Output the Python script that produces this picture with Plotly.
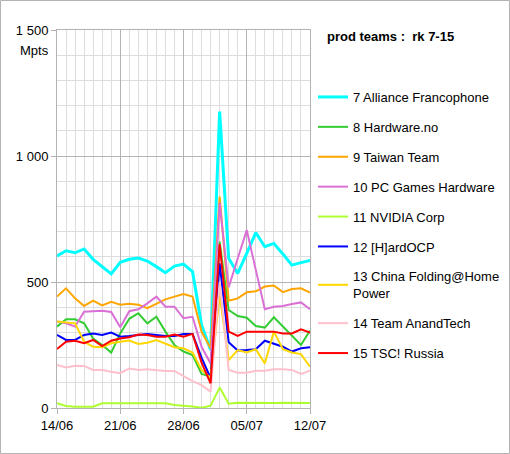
import pandas as pd
import plotly.graph_objects as go

dates = pd.date_range("2021-06-14", "2021-07-12", freq="D")

names = ["7 Alliance Francophone", "8 Hardware.no", "9 Taiwan Team", "10 PC Games Hardware",
         "11 NVIDIA Corp", "12 [H]ardOCP", "13 China Folding@Home<br>Power", "14 Team AnandTech",
         "15 TSC! Russia"]

alliance = [603, 624, 616, 631, 590, 561, 532, 578, 590, 595, 583, 561, 537, 563, 571, 541,
            329, 230, 1176, 594, 534, 614, 696, 640, 653, 611, 567, 577, 585]
hardware_no = [323, 352, 352, 336, 276, 250, 220, 296, 354, 376, 336, 362, 303, 250, 224, 210,
               135, 125, 660, 389, 365, 358, 325, 319, 360, 323, 283, 250, 307]
taiwan = [442, 475, 435, 405, 426, 407, 421, 410, 414, 410, 396, 413, 431, 442, 452, 442,
          303, 237, 839, 426, 435, 459, 463, 482, 486, 460, 472, 475, 458]
pcgh = [343, 336, 323, 382, 384, 386, 381, 320, 384, 392, 415, 442, 402, 402, 356, 362,
        243, 177, 815, 479, 593, 706, 548, 392, 402, 405, 413, 419, 392]
nvidia = [19, 8, 5, 5, 5, 19, 19, 19, 19, 19, 19, 19, 19, 12, 10, 6,
          1, 9, 81, 17, 21, 20, 22, 20, 20, 21, 20, 20, 20]
hardocp = [290, 270, 270, 290, 296, 290, 299, 283, 286, 290, 294, 290, 286, 286, 294, 294,
           200, 118, 574, 261, 228, 230, 233, 267, 254, 243, 224, 237, 241]
china = [343, 339, 336, 263, 243, 241, 257, 263, 268, 254, 259, 270, 257, 241, 237, 220,
         151, 120, 448, 190, 230, 220, 233, 177, 303, 233, 220, 214, 164]
anandtech = [171, 161, 168, 167, 151, 151, 144, 138, 157, 151, 154, 151, 147, 147, 127, 107,
             91, 65, 500, 151, 140, 140, 148, 148, 154, 154, 151, 135, 148]
tsc = [234, 263, 267, 257, 270, 246, 267, 276, 281, 292, 290, 283, 283, 292, 283, 294,
       180, 98, 650, 303, 286, 303, 303, 303, 303, 296, 296, 312, 299]

series = [alliance, hardware_no, taiwan, pcgh, nvidia, hardocp, china, anandtech, tsc]
colors = ["#00ffff", "#33cc33", "#ffa500", "#da70d6", "#adff2f", "#0000ff", "#ffd700", "#ffc0cb", "#ff0000"]
widths = [3, 2, 2, 2, 2, 2, 2, 2, 2]

y_tickvals = [0, 500, 1000, 1500]
y_ticktext = ["0", "500", "1 000", "1 500"]

FONT = "Liberation Sans, Arial, sans-serif"
L, R, T, B = 57, 200, 30, 46
W, H = 510, 454
pw, ph = W - L - R, H - T - B

def px(x):
    return (x - L) / pw

def py(y):
    return (H - B - y) / ph

fig = go.Figure()
for i, (n, s, c, w) in enumerate(zip(names, series, colors, widths)):
    fig.add_trace(go.Scatter(x=dates, y=s, name=n, mode="lines",
                             line=dict(color=c, width=w), legendgroup=str(i)))

fig.update_layout(
    width=W, height=H,
    margin=dict(l=L, r=R, t=T, b=B, autoexpand=False),
    paper_bgcolor="white", plot_bgcolor="white",
    font=dict(family=FONT, size=13, color="black"),
    showlegend=True,
    legend=dict(x=px(313), y=py(82), xanchor="left", yanchor="top",
                font=dict(family=FONT, size=13, color="black"),
                tracegroupgap=10, bgcolor="rgba(0,0,0,0)"),
    xaxis=dict(range=[dates[0], dates[-1]], type="date", tickformat="%d/%m",
               tick0=dates[0], dtick=7 * 86400000,
               showgrid=True, gridcolor="#b3b3b3", gridwidth=1,
               minor=dict(dtick=86400000, showgrid=True, gridcolor="#dddddd", ticks=""),
               ticks="outside", ticklen=5, tickcolor="#b3b3b3",
               showline=True, linecolor="#b3b3b3", mirror=True, zeroline=False,
               tickfont=dict(size=13)),
    yaxis=dict(range=[0, 1500], tickvals=y_tickvals, ticktext=y_ticktext,
               showgrid=True, gridcolor="#b3b3b3", gridwidth=1,
               minor=dict(dtick=100, showgrid=True, gridcolor="#dddddd", ticks=""),
               ticks="outside", ticklen=5, tickcolor="#b3b3b3",
               showline=True, linecolor="#b3b3b3", mirror=True, zeroline=False,
               tickfont=dict(size=13)),
)

fig.add_annotation(text="Mpts", x=px(34), y=py(50), xref="paper", yref="paper",
                   showarrow=False, xanchor="center", yanchor="middle",
                   font=dict(family=FONT, size=13, color="black"))
fig.add_annotation(text="<b>prod teams :  rk 7-15</b>", x=px(325), y=py(36), xref="paper", yref="paper",
                   showarrow=False, xanchor="left", yanchor="middle",
                   font=dict(family=FONT, size=13, color="black"))
fig.add_shape(type="rect", xref="paper", yref="paper",
              x0=px(0.5), x1=px(509.5), y0=py(453.5), y1=py(0.5),
              line=dict(color="#b3b3b3", width=1), fillcolor="rgba(0,0,0,0)", layer="below")

fig.write_html("out.html")
